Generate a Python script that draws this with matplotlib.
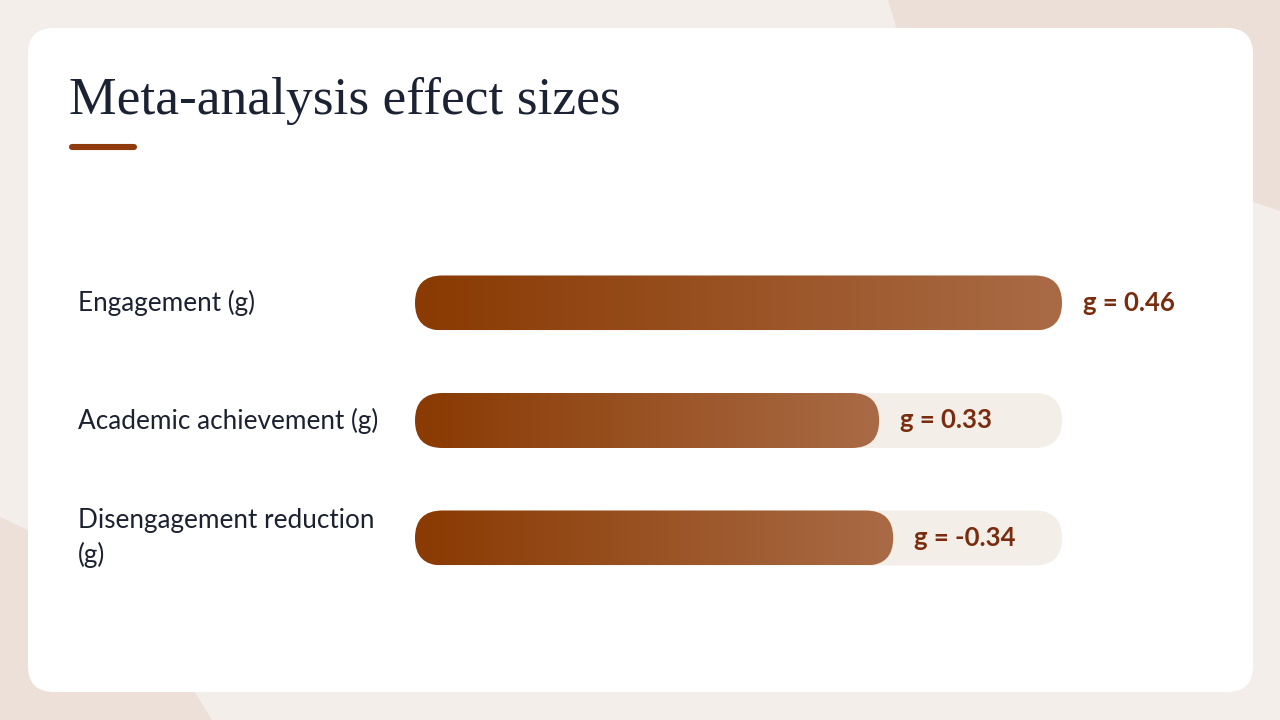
import matplotlib
matplotlib.use("Agg")
import matplotlib.pyplot as plt
from matplotlib.patches import FancyBboxPatch, Polygon
from matplotlib.colors import LinearSegmentedColormap
import matplotlib.transforms as mtransforms
import numpy as np

# ---- data ----
title = "Meta-analysis effect sizes"
categories = ["Engagement (g)", "Academic achievement (g)", "Disengagement reduction\n(g)"]
values = [0.46, 0.33, -0.34]
value_labels = ["g = 0.46", "g = 0.33", "g = -0.34"]

W, H = 1280, 720
fig = plt.figure(figsize=(W / 100, H / 100), dpi=100)
fig.patch.set_facecolor("#f3eeea")

# background / decoration axes in pixel coordinates
bg = fig.add_axes([0, 0, 1, 1])
bg.set_xlim(0, W)
bg.set_ylim(H, 0)
bg.axis("off")
bg.set_zorder(0)

bg.add_patch(Polygon([(888, 0), (W, 0), (W, 211), (1100, 150), (900, 40)],
                     closed=True, fc="#ecdfd8", ec="none"))
bg.add_patch(Polygon([(0, 517), (60, 545), (150, 620), (212, 720), (0, 720)],
                     closed=True, fc="#ede0d9", ec="none"))
# card
bg.add_patch(FancyBboxPatch((28, 28), 1225, 664,
                            boxstyle="round,pad=0,rounding_size=26",
                            fc="white", ec="none"))
# title
bg.text(69, 114, title, fontsize=38.5, family="Liberation Serif",
        color="#1b2233", va="baseline", ha="left")
bg.plot([72, 134], [147, 147], color="#8f3b0d", lw=4.4,
        solid_capstyle="round")

# bar axes: track spans pixel x 415..1062
x0_px, x1_px = 415, 1062
y_top_px, y_bot_px = 244.25, 596.75
ax = fig.add_axes([x0_px / W, 1 - y_bot_px / H,
                   (x1_px - x0_px) / W, (y_bot_px - y_top_px) / H])
ax.set_zorder(1)
ax.patch.set_alpha(0)
ax.axis("off")
vmax = max(abs(v) for v in values)
ax.set_xlim(0, vmax)
ax.set_ylim(len(categories) - 0.5, -0.5)

bar_h = 55 / 117.5
px_per_x = (x1_px - x0_px) / vmax
px_per_y = 117.5
rad_px = 27.5
r_x = rad_px / px_per_x
m_aspect = (rad_px / px_per_y) / r_x

cmap = LinearSegmentedColormap.from_list("bar", ["#8a3a02", "#a96b46"])
grad = np.linspace(0, 1, 256).reshape(1, -1)

name_tr = mtransforms.blended_transform_factory(fig.transFigure, ax.transData)

for i, (cat, v, lab) in enumerate(zip(categories, values, value_labels)):
    # track
    ax.add_patch(FancyBboxPatch((0, i - bar_h / 2), vmax, bar_h,
                                boxstyle=f"round,pad=0,rounding_size={r_x}",
                                mutation_aspect=m_aspect,
                                fc="#f4eee9", ec="none", zorder=1))
    length = abs(v)
    clip = FancyBboxPatch((0, i - bar_h / 2), length, bar_h,
                          boxstyle=f"round,pad=0,rounding_size={r_x}",
                          mutation_aspect=m_aspect, fc="none", ec="none")
    ax.add_patch(clip)
    im = ax.imshow(grad, cmap=cmap, aspect="auto", interpolation="bilinear",
                   extent=(0, length, i + bar_h / 2, i - bar_h / 2), zorder=2)
    im.set_clip_path(clip)
    ax.annotate(lab, xy=(length, i), xytext=(21, 0), textcoords="offset pixels",
                va="center", ha="left", fontsize=18.5, family="Lato",
                weight="bold", color="#7a2d0e", annotation_clip=False)
    ax.text(78 / W, i, cat, transform=name_tr, va="center", ha="left",
            fontsize=18.8, family="Lato", color="#1c2130", linespacing=1.4)

ax.set_xlim(0, vmax)
ax.set_ylim(len(categories) - 0.5, -0.5)

fig.savefig("out.png", dpi=100, facecolor=fig.get_facecolor())
